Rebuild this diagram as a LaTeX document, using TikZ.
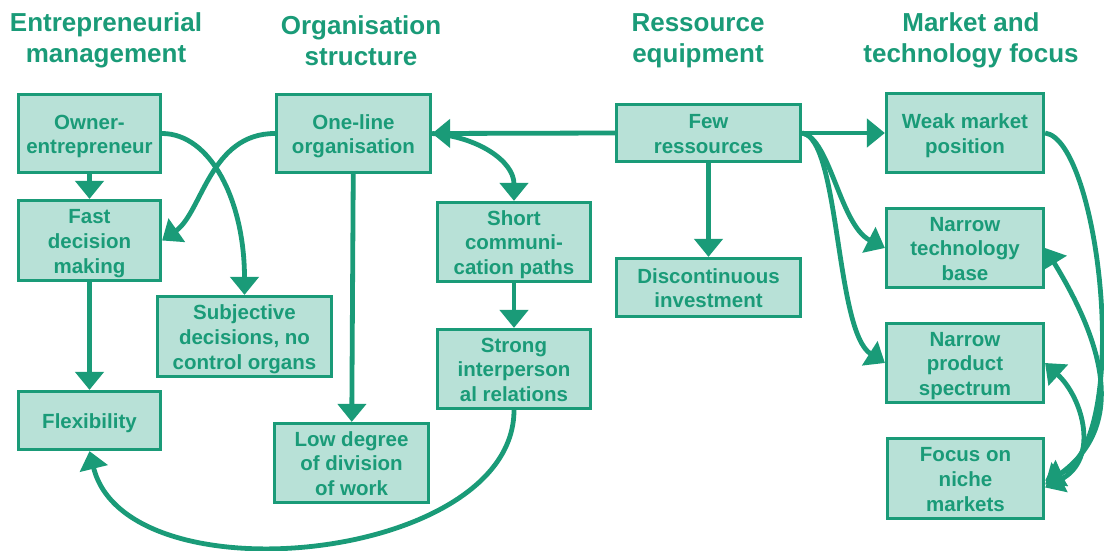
\documentclass[tikz,border=0pt]{standalone}
\usepackage{fontspec}
\setmainfont{Liberation Sans}
\usetikzlibrary{arrows.meta}
\definecolor{dgreen}{RGB}{26,155,120}
\definecolor{lgreen}{RGB}{184,225,215}
\newcommand{\bxt}[1]{\raisebox{-3pt}[\height][\depth]{\begin{tabular}{@{}c@{}}#1\end{tabular}}}
\tikzset{
  box/.style={draw=dgreen, line width=3.2pt, fill=lgreen, text=dgreen, align=center,
    inner sep=0pt, font=\fontsize{20.5}{24.6}\selectfont\bfseries},
  head/.style={text=dgreen, align=center, inner sep=0pt,
    font=\fontsize{26}{31}\selectfont\bfseries},
  conn/.style={draw=dgreen, line width=4.8pt, -{Triangle[length=18pt,width=28pt]}},
  biconn/.style={draw=dgreen, line width=4.8pt, {Triangle[length=18pt,width=28pt]}-{Triangle[length=18pt,width=28pt]}},
}
\begin{document}
\begin{tikzpicture}[x=1pt,y=-1pt]
\useasboundingbox (0,0) rectangle (1104,551);
% headers
\node[head] (h1) at (106,40.5) {Entrepreneurial\\management};
\node[head] (h2) at (361,40.5) {Organisation\\structure};
\node[head] (h3) at (698,40.5) {Ressource\\equipment};
\node[head] (h4) at (971,40.5) {Market and\\technology focus};
% boxes
\node[box, minimum width=142pt, minimum height=78pt] (own) at (89.5,133.5) {\bxt{Owner-\\entrepreneur}};
\node[box, minimum width=142pt, minimum height=80pt] (fast) at (89.5,240.5) {\bxt{Fast\\decision\\making}};
\node[box, minimum width=142pt, minimum height=58pt] (flex) at (89.5,420.5) {\bxt{Flexibility}};
\node[box, minimum width=174pt, minimum height=80pt] (subj) at (244.5,336.5) {\bxt{Subjective\\decisions, no\\control organs}};
\node[box, minimum width=154pt, minimum height=78pt] (one) at (353.5,133.5) {\bxt{One-line\\organisation}};
\node[box, minimum width=154pt, minimum height=79pt] (low) at (351.5,463) {\bxt{Low degree\\of division\\of work}};
\node[box, minimum width=153pt, minimum height=79pt] (short) at (514,242) {\bxt{Short\\communi-\\cation paths}};
\node[box, minimum width=153pt, minimum height=79pt] (strong) at (514,369) {\bxt{Strong\\interperson\\al relations}};
\node[box, minimum width=184pt, minimum height=57pt] (few) at (708.5,133) {\bxt{Few\\ressources}};
\node[box, minimum width=184pt, minimum height=58pt] (disc) at (708.5,287.5) {\bxt{Discontinuous\\investment}};
\node[box, minimum width=157pt, minimum height=79pt] (weak) at (965,133) {\bxt{Weak market\\position}};
\node[box, minimum width=157pt, minimum height=79pt] (tech) at (965,248) {\bxt{Narrow\\technology\\base}};
\node[box, minimum width=157pt, minimum height=79pt] (prod) at (965,363) {\bxt{Narrow\\product\\spectrum}};
\node[box, minimum width=156pt, minimum height=80pt] (focus) at (965.5,478.5) {\bxt{Focus on\\niche\\markets}};
% straight connectors
\draw[conn] (own) -- (fast);
\draw[conn] (fast) -- (flex);
\draw[conn] (one) -- (low);
\draw[conn] (short) -- (strong);
\draw[conn] (few) -- (disc);
\draw[conn] (few.west) -- (one.east);
\draw[conn] (few.east) -- (weak.west);
% curved connectors
\draw[conn] (own.east) .. controls +(48,0) and +(0,-95) .. (subj.north);
\draw[conn] (one.west) .. controls +(-65,0) and +(40,-28) .. (fast.east);
\draw[conn] (one.east) .. controls +(45,3) and +(0,-40) .. (short.north);
\draw[conn] (strong.south) .. controls +(0,152) and +(37,150) .. (flex.south);
\draw[conn] (few.east) .. controls +(28,5) and +(-45,-23) .. (tech.west);
\draw[conn] (few.east) .. controls +(38,5) and +(-50,-32) .. (prod.west);
\draw[conn] (weak.east) .. controls +(54,7) and +(89,-40) .. ([yshift=-2pt]focus.east);
\draw[biconn] (tech.east) .. controls +(55,90) and +(85,-60) .. ([yshift=-6pt]focus.east);
\draw[biconn] (prod.east) .. controls +(38,35) and +(55,-28) .. ([yshift=-9pt]focus.east);
\end{tikzpicture}
\end{document}
